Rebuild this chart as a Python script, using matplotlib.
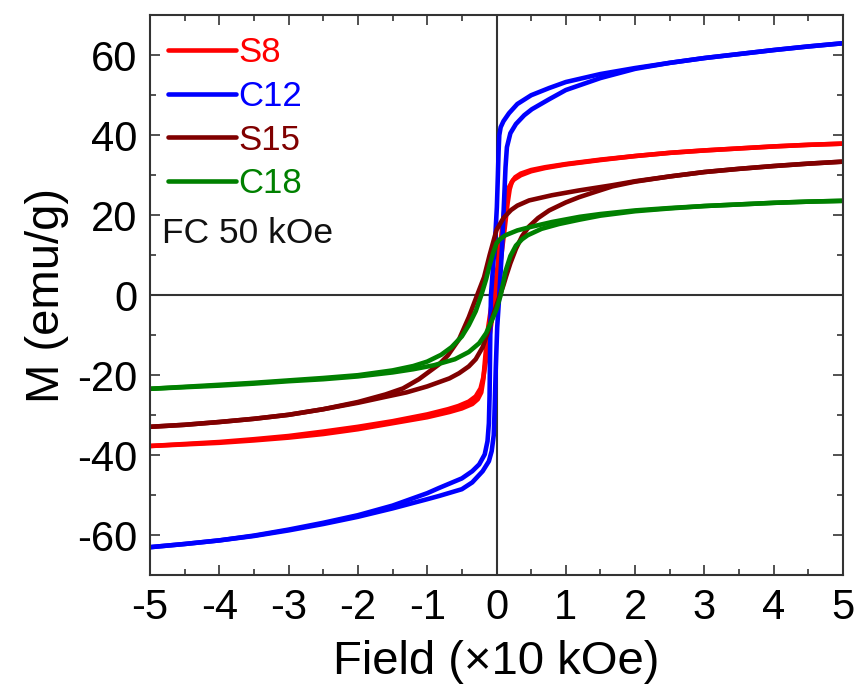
import matplotlib
matplotlib.use("Agg")
import matplotlib.pyplot as plt
from matplotlib.ticker import MultipleLocator

plt.rcParams['font.family'] = ['Liberation Sans', 'DejaVu Sans']

samples = ["S8", "C12", "S15", "C18"]
colors = ["#ff0000", "#0000ff", "#800000", "#008000"]

# S8 (red)
s8_h_desc = [5, 4.5, 4, 3.5, 3, 2.5, 2, 1.5, 1, 0.7, 0.5, 0.35, 0.27, 0.22, 0.19, 0.16, 0.12, 0.07, 0.02, -0.04, -0.1, -0.15, -0.19, -0.23, -0.3, -0.4, -0.55, -0.7, -1, -1.5, -2, -2.5, -3, -3.5, -4, -4.5, -5]
s8_m_desc = [37.9, 37.6, 37.2, 36.7, 36.2, 35.6, 34.8, 33.9, 32.8, 32.0, 31.3, 30.4, 29.5, 28.3, 26.5, 23.0, 17.0, 10.0, 3.0, -3.0, -10.0, -16.0, -20.5, -23.3, -25.3, -26.6, -27.7, -28.5, -29.8, -31.5, -32.9, -34.1, -35.2, -36.0, -36.7, -37.2, -37.7]
s8_h_asc = [-5, -4.5, -4, -3.5, -3, -2.5, -2, -1.5, -1, -0.68, -0.5, -0.35, -0.27, -0.22, -0.19, -0.16, -0.12, -0.06, 0, 0.05, 0.1, 0.14, 0.18, 0.24, 0.35, 0.5, 0.7, 1, 1.5, 2, 2.5, 3, 3.5, 4, 4.5, 5]
s8_m_asc = [-37.7, -37.3, -36.9, -36.3, -35.6, -34.7, -33.5, -32.0, -30.5, -29.2, -28.3, -27.2, -26.0, -24.3, -21.0, -15.0, -8.0, -1.0, 5.0, 12.0, 19.5, 24.5, 27.0, 28.8, 30.0, 31.0, 31.8, 32.7, 33.8, 34.8, 35.6, 36.2, 36.7, 37.2, 37.6, 37.9]

# C12 (blue)
c12_h_desc = [5, 4.5, 4, 3.5, 3, 2.5, 2, 1.5, 1, 0.76, 0.5, 0.3, 0.18, 0.1, 0.06, 0.04, 0.03, 0.02, 0.005, -0.02, -0.05, -0.08, -0.09, -0.1, -0.11, -0.13, -0.17, -0.25, -0.35, -0.5, -0.83, -1, -1.5, -2, -2.5, -3, -3.5, -4, -4.5, -5]
c12_m_desc = [63.0, 62.2, 61.3, 60.3, 59.3, 58.1, 56.8, 55.3, 53.3, 51.8, 50.0, 47.8, 45.5, 43.5, 42.0, 40.0, 36.0, 30.0, 22.0, 14.0, 7.0, 0.0, -10.0, -25.0, -32.0, -36.5, -39.8, -42.3, -44.0, -45.8, -48.2, -49.5, -52.6, -55.0, -56.9, -58.6, -60.1, -61.3, -62.2, -63.0]
c12_h_asc = [-5, -4.5, -4, -3.5, -3, -2.5, -2, -1.5, -1, -0.83, -0.5, -0.35, -0.2, -0.11, -0.07, -0.04, -0.03, -0.01, 0.01, 0.04, 0.08, 0.11, 0.13, 0.15, 0.2, 0.28, 0.4, 0.51, 0.76, 1, 1.5, 2, 2.5, 3, 3.5, 4, 4.5, 5]
c12_m_asc = [-63.0, -62.2, -61.3, -60.2, -58.8, -57.2, -55.4, -53.3, -51.0, -50.2, -48.5, -46.8, -44.0, -41.5, -39.0, -35.0, -30.0, -18.0, -8.0, 0.0, 12.0, 24.0, 32.0, 37.0, 40.5, 42.8, 45.0, 46.5, 49.0, 51.3, 54.3, 56.6, 58.1, 59.3, 60.3, 61.3, 62.2, 63.0]

# S15 (dark red)
s15_h_desc = [5, 4.5, 4, 3.5, 3, 2.5, 2, 1.67, 1.19, 0.8, 0.47, 0.3, 0.21, 0.1, 0.0, -0.1, -0.18, -0.28, -0.4, -0.54, -0.7, -0.83, -1.12, -1.35, -1.6, -2, -2.5, -3, -3.5, -4, -4.5, -5]
s15_m_desc = [33.4, 32.9, 32.3, 31.6, 30.8, 29.7, 28.5, 27.5, 26.2, 25.0, 23.7, 22.4, 21.3, 19.3, 16.3, 10.0, 4.5, 0.0, -5.5, -11.0, -15.0, -17.3, -21.0, -23.3, -24.8, -26.7, -28.5, -29.9, -30.9, -31.7, -32.4, -32.9]
s15_h_asc = [-5, -4.5, -4, -3.5, -3, -2.5, -2, -1.6, -1.3, -1, -0.68, -0.54, -0.4, -0.3, -0.2, -0.12, -0.05, 0.02, 0.06, 0.1, 0.14, 0.2, 0.28, 0.37, 0.47, 0.6, 0.76, 1, 1.19, 1.4, 1.67, 2, 2.5, 3, 3.5, 4, 4.5, 5]
s15_m_asc = [-32.9, -32.4, -31.7, -30.9, -29.9, -28.5, -26.9, -25.4, -24.3, -22.8, -20.8, -19.5, -17.8, -16.0, -13.0, -9.0, -5.0, -1.5, 0.5, 2.5, 4.8, 8.0, 11.6, 14.8, 17.2, 19.3, 21.2, 23.2, 24.5, 25.7, 27.2, 28.4, 29.7, 30.8, 31.6, 32.3, 32.9, 33.4]

# C18 (green)
c18_h_desc = [5, 4.5, 4, 3.5, 3, 2.5, 2, 1.5, 1.2, 0.8, 0.5, 0.3, 0.13, 0.05, 0.0, -0.05, -0.1, -0.15, -0.22, -0.3, -0.4, -0.5, -0.65, -0.8, -1, -1.2, -1.5, -2, -2.5, -3, -3.5, -4, -4.5, -5]
c18_m_desc = [23.6, 23.4, 23.1, 22.7, 22.3, 21.8, 21.2, 20.3, 19.6, 18.3, 17.1, 16.2, 15.0, 14.0, 13.0, 10.5, 7.5, 4.0, 0.0, -4.0, -7.5, -10.3, -13.0, -14.9, -16.6, -17.7, -18.8, -20.0, -20.7, -21.3, -21.9, -22.4, -22.9, -23.4]
c18_h_asc = [-5, -4.5, -4, -3.5, -3, -2.5, -2, -1.5, -1.2, -0.9, -0.6, -0.4, -0.25, -0.15, -0.08, 0, 0.06, 0.1, 0.13, 0.2, 0.28, 0.37, 0.45, 0.65, 0.9, 1.2, 1.5, 2, 2.5, 3, 3.5, 4, 4.5, 5]
c18_m_asc = [-23.4, -23.0, -22.6, -22.1, -21.5, -21.0, -20.3, -19.3, -18.5, -17.5, -16.0, -14.2, -12.0, -9.5, -6.8, -3.5, 0.0, 3.3, 6.0, 9.8, 12.4, 14.0, 15.0, 16.6, 17.8, 18.9, 19.9, 21.0, 21.7, 22.3, 22.7, 23.1, 23.4, 23.6]

loops = [
    (s8_h_desc, s8_m_desc, s8_h_asc, s8_m_asc),
    (c12_h_desc, c12_m_desc, c12_h_asc, c12_m_asc),
    (s15_h_desc, s15_m_desc, s15_h_asc, s15_m_asc),
    (c18_h_desc, c18_m_desc, c18_h_asc, c18_m_asc),
]

x_ticks = [-5, -4, -3, -2, -1, 0, 1, 2, 3, 4, 5]
y_ticks = [-60, -40, -20, 0, 20, 40, 60]

fig = plt.figure(figsize=(8.62, 6.93), dpi=100)
ax = fig.add_axes([0.174, 0.170, 0.804, 0.808])

ax.axhline(0, color="#333333", lw=1.5, zorder=1)
ax.axvline(0, color="#333333", lw=1.5, zorder=1)

for name, col, (hd, md, ha, ma) in zip(samples, colors, loops):
    ax.plot(hd, md, color=col, lw=3.3, label=name, zorder=2,
            solid_joinstyle="round", solid_capstyle="round")
    ax.plot(ha, ma, color=col, lw=3.3, zorder=2,
            solid_joinstyle="round", solid_capstyle="round")

ax.set_xlim(-5, 5)
ax.set_ylim(-70, 70)
ax.set_xticks(x_ticks)
ax.set_xticklabels([str(v) for v in x_ticks])
ax.set_yticks(y_ticks)
ax.set_yticklabels([str(v) for v in y_ticks])
ax.xaxis.set_minor_locator(MultipleLocator(0.5))
ax.yaxis.set_minor_locator(MultipleLocator(10))
ax.tick_params(which="both", direction="in", top=True, right=True, color="#333333", width=1.2)
ax.tick_params(which="major", length=7, labelsize=30, pad=9)
ax.tick_params(which="minor", length=4)
for sp in ax.spines.values():
    sp.set_color("#333333")
    sp.set_linewidth(1.5)

ax.set_xlabel("Field (×10 kOe)", fontsize=34, labelpad=9)
ax.set_ylabel("M (emu/g)", fontsize=34, labelpad=6)

leg = ax.legend(loc="upper left", frameon=False, fontsize=25, handlelength=1.95,
                handletextpad=0.08, labelspacing=0.31, borderaxespad=0.2,
                labelcolor="linecolor", bbox_to_anchor=(-0.004, 1.0))
ax.text(0.017, 0.61, "FC 50 kOe", transform=ax.transAxes, fontsize=25.5,
        color="#111111", va="center", ha="left")

fig.savefig("out.png", dpi=100)
